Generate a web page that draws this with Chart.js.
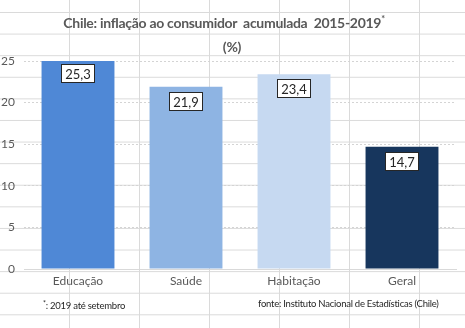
<!DOCTYPE html>
<html lang="pt">
<head>
<meta charset="UTF-8">
<title>Chile: inflação ao consumidor acumulada 2015-2019</title>
<script src="https://cdn.jsdelivr.net/npm/chart.js"></script>
<style>
  html, body { margin: 0; padding: 0; }
  body {
    width: 465px; height: 328px; position: relative; overflow: hidden;
    background-color: #fff;
    background-image:
      linear-gradient(to right, #dadada 1px, transparent 1px),
      linear-gradient(to bottom, #dadada 1px, transparent 1px);
    background-size: 70px 21.6px;
    background-position: 69px 12px;
    font-family: Lato, "Open Sans", sans-serif;
  }
  #chartBox { position: absolute; left: 0; top: 0; width: 465px; height: 328px; }
  .title {
    position: absolute; left: 0; width: 448px; text-align: center;
    font-weight: bold; font-size: 14px; letter-spacing: -0.3px; color: #595959; line-height: 24px;
  }
  .title sup { font-size: 9px; vertical-align: 6px; line-height: 0; }
  .note { position: absolute; font-size: 9.5px; letter-spacing: -0.25px; color: #262626; line-height: 14px; }
  .note sup { font-size: 7px; vertical-align: 3px; line-height: 0; }
</style>
</head>
<body>
  <div id="chartBox"><canvas id="inflChart" width="465" height="328"></canvas></div>
  <div class="title" style="top:11px">Chile: inflação ao consumidor&nbsp; acumulada&nbsp; 2015-2019<sup>*</sup></div>
  <div class="title" style="top:35px; left:8px">(%)</div>
  <div class="note" style="left:43px; top:299px"><sup>*</sup>: 2019 até setembro</div>
  <div class="note" style="left:258px; top:297px">fonte: Instituto Nacional de Estadísticas (Chile)</div>

<script>
  const categorias = ['Educação', 'Saúde', 'Habitação', 'Geral'];
  const inflacao = [25.3, 21.9, 23.4, 14.7];
  const cores = ['#4f88d6', '#8eb4e3', '#c6d9f1', '#17365d'];
  const ticksY = [0, 5, 10, 15, 20, 25];

  // caixinhas brancas com o valor de cada barra
  const rotulos = {
    id: 'rotulos',
    afterDatasetsDraw(chart) {
      const ctx = chart.ctx;
      const meta = chart.getDatasetMeta(0);
      ctx.save();
      ctx.font = '13px Lato, "Open Sans", sans-serif';
      ctx.textAlign = 'center';
      ctx.textBaseline = 'middle';
      meta.data.forEach((bar, i) => {
        const txt = inflacao[i].toFixed(1).replace('.', ',');
        const w = Math.round(ctx.measureText(txt).width) + 8;
        const h = 19;
        const x = Math.round(bar.x - w / 2);
        const y = Math.round(bar.y + 5);
        ctx.fillStyle = '#fff';
        ctx.fillRect(x, y, w, h);
        ctx.strokeStyle = '#262626';
        ctx.lineWidth = 1;
        ctx.strokeRect(x + 0.5, y + 0.5, w - 1, h - 1);
        ctx.fillStyle = '#262626';
        ctx.fillText(txt, bar.x, y + h / 2 + 1);
      });
      ctx.restore();
    }
  };

  new Chart(document.getElementById('inflChart'), {
    type: 'bar',
    data: {
      labels: categorias,
      datasets: [{
        data: inflacao,
        backgroundColor: cores,
        borderWidth: 0,
        categoryPercentage: 1,
        barPercentage: 0.675
      }]
    },
    options: {
      responsive: false,
      animation: false,
      layout: { padding: { top: 61, right: 9, bottom: 37, left: 0 } },
      plugins: {
        legend: { display: false },
        tooltip: { enabled: false }
      },
      scales: {
        x: {
          grid: { display: false, drawTicks: false },
          border: { color: '#d9d9d9' },
          ticks: { color: '#595959', font: { size: 12, family: 'Lato' }, padding: 5 },
          afterFit(s) { s.height = 22; }
        },
        y: {
          min: 0, max: 25,
          afterBuildTicks(s) { s.ticks = ticksY.map(v => ({ value: v })); },
          grid: { color: '#d4d4d4', drawTicks: false },
          border: { display: false, dash: [2, 2] },
          ticks: { color: '#595959', font: { size: 12, family: 'Lato' }, padding: 9 },
          afterFit(s) { s.width = 24; }
        }
      }
    },
    plugins: [rotulos]
  });
</script>
</body>
</html>
